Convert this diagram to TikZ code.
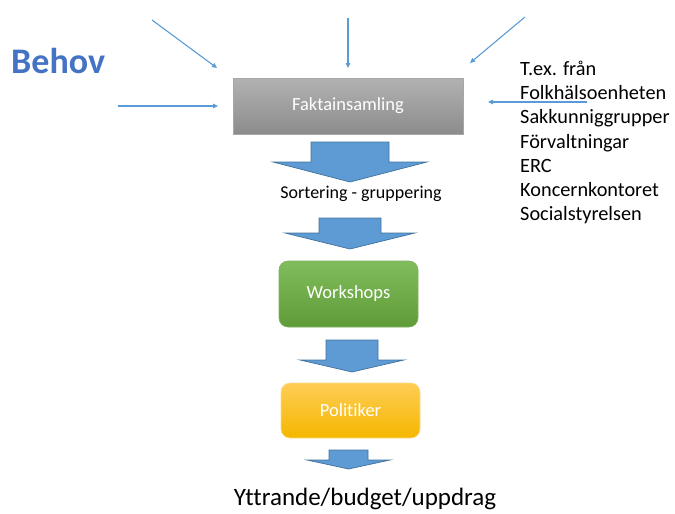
\documentclass[tikz,border=0pt]{standalone}
\usepackage{fontspec}
\setmainfont{Carlito}[Ligatures=NoCommon]
\usetikzlibrary{arrows.meta}

\definecolor{behovblue}{HTML}{4472C4}
\definecolor{lineblue}{HTML}{5B9BD5}
\definecolor{blockfill}{HTML}{5E9BD4}
\definecolor{blockedge}{HTML}{41719C}
\definecolor{graytop}{HTML}{B2B2B2}
\definecolor{graybot}{HTML}{8C8C8C}
\definecolor{greentop}{HTML}{80BC5B}
\definecolor{greenbot}{HTML}{5F9C38}
\definecolor{yellowtop}{HTML}{FFCD55}
\definecolor{yellowbot}{HTML}{F4B700}

\tikzset{
  fs/.style={font=\fontsize{#1}{#1}\selectfont},
  thinarrow/.style={draw=lineblue, line width=1.1pt,
    -{Triangle[length=5pt,width=4.5pt]}},
  blockarrow/.style={fill=blockfill, draw=blockedge, line width=0.7pt, line join=miter},
  stagebox/.style={inner sep=0pt, text=white, fs=18.5},
  graybox/.style={stagebox, draw=gray!70, line width=0.6pt,
    top color=graytop, bottom color=graybot},
  greenbox/.style={stagebox, draw=greenbot!80!white, line width=0.6pt,
    rounded corners=9pt, top color=greentop, bottom color=greenbot},
  yellowbox/.style={stagebox, draw=yellowtop!70!white, line width=0.6pt,
    rounded corners=9pt, top color=yellowtop, bottom color=yellowbot},
  plain/.style={inner sep=0pt, text=black}
}

\begin{document}
\begin{tikzpicture}[x=1pt, y=-1pt]
\useasboundingbox (0,0) rectangle (675,514);

% heading on the left
\node[anchor=base west, inner sep=0pt, text=behovblue, font=\bfseries\fontsize{36}{36}\selectfont]
  (behov) at (11,73) {Behov};

% process stages
\node[graybox, minimum width=230pt, minimum height=56pt] (fakta) at (348,106) {Faktainsamling};
\node[plain, anchor=base, fs=18] (sort) at (361,198) {Sortering - gruppering};
\node[greenbox, minimum width=139pt, minimum height=66pt] (work) at (348.5,294) {Workshops};
\node[yellowbox, minimum width=139pt, minimum height=55pt] (poli) at (350.5,410.5) {Politiker};
\node[plain, anchor=base, fs=25] (result) at (365,505) {Yttrande/budget/uppdrag};

% list of sources
\node[plain, anchor=north west, align=left, font=\fontsize{20.3}{24.2}\selectfont]
  (sources) at (520,61) {T.ex. från\\Folkhälsoenheten\\Sakkunniggrupper\\Förvaltningar\\ERC\\Koncernkontoret\\Socialstyrelsen};

% incoming inputs
\coordinate (in1) at (152,20);  \coordinate (to1) at (217,68);
\coordinate (in2) at (348,18);  \coordinate (to2) at (348,68);
\coordinate (in3) at (525,17);  \coordinate (to3) at (470,63);
\coordinate (in4) at (118,106); \coordinate (to4) at (218,106);
\coordinate (in5) at (587,102); \coordinate (to5) at (488,102);
\draw[thinarrow] (in1) -- (to1);
\draw[thinarrow] (in2) -- (to2);
\draw[thinarrow] (in3) -- (to3);
\draw[thinarrow] (in4) -- (to4);
\draw[thinarrow] (in5) -- (to5);

% block arrows between the stages
\draw[blockarrow] (311,142) -- (389,142) -- (389,162) -- (427,162) -- (350,182)
  -- (273,162) -- (311,162) -- cycle;
\draw[blockarrow] (319,218) -- (381,218) -- (381,233) -- (415,233) -- (350,249)
  -- (285,233) -- (319,233) -- cycle;
\draw[blockarrow] (326,340) -- (378,340) -- (378,360) -- (404,360) -- (352,372)
  -- (300,360) -- (326,360) -- cycle;
\draw[blockarrow] (329,450) -- (368,450) -- (368,460) -- (390,460) -- (348.5,469)
  -- (307,460) -- (329,460) -- cycle;
\end{tikzpicture}
\end{document}
